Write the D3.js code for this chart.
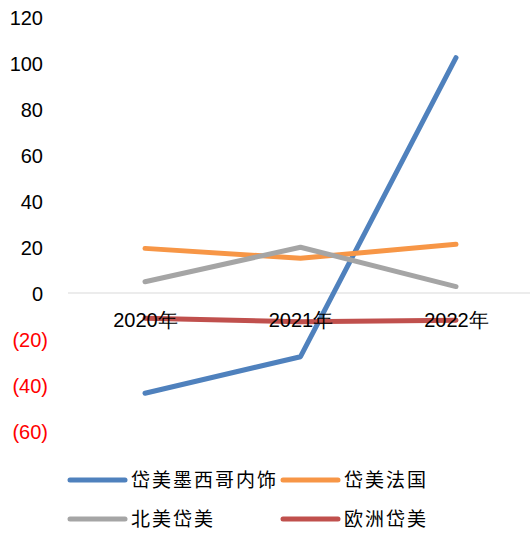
<!DOCTYPE html>
<html>
<head>
<meta charset="utf-8">
<script src="https://cdn.jsdelivr.net/npm/d3@7"></script>
<style>
  body { margin: 0; background: #fff; }
  text { font-family: "Liberation Sans", Arial, sans-serif; }
  .legend text { font-family: "Noto Sans CJK SC", sans-serif; }
</style>
</head>
<body>
<svg width="530" height="535"></svg>
<script>
var years = ["2020年", "2021年", "2022年"];
var mexico = [-43.6, -27.7, 102.3];
var france = [19.4, 15.1, 21.2];
var northAm = [4.9, 19.9, 2.8];
var europe = [-11, -12.5, -11.8];
var yTicks = [-60, -40, -20, 0, 20, 40, 60, 80, 100, 120];

var series = [
  {name: "岱美墨西哥内饰", values: mexico, color: "#4F81BD"},
  {name: "岱美法国", values: france, color: "#F79646"},
  {name: "北美岱美", values: northAm, color: "#A5A5A5"},
  {name: "欧洲岱美", values: europe, color: "#C0504D"}
];

var svg = d3.select("svg");

var x = d3.scalePoint().domain(years).range([145, 456]);
var y = d3.scaleLinear().domain([-60, 120]).range([431, 17]);

// zero line
svg.append("line")
   .attr("x1", 68).attr("x2", 530)
   .attr("y1", y(0)).attr("y2", y(0))
   .attr("stroke", "#d9d9d9").attr("stroke-width", 1);

// y axis labels
var yAxis = d3.axisLeft(y).tickValues(yTicks).tickSize(0)
  .tickFormat(function(d){ return d < 0 ? "(" + Math.abs(d) + ")" : d; });
var gy = svg.append("g").attr("transform", "translate(48,0)").call(yAxis);
gy.select(".domain").remove();
gy.selectAll("text")
  .attr("x", function(d){ return d < 0 ? 0 : -5; })
  .attr("dy", "0.35em")
  .attr("font-size", 20)
  .attr("font-family", "'Liberation Sans', Arial, sans-serif")
  .attr("fill", function(d){ return d < 0 ? "#FF0000" : "#000"; });

// lines
var line = d3.line()
  .x(function(d, i){ return x(years[i]); })
  .y(function(d){ return y(d); });

svg.selectAll(".series")
   .data(series)
   .enter()
   .append("path")
   .attr("class", "series")
   .attr("d", function(s){ return line(s.values); })
   .attr("fill", "none")
   .attr("stroke", function(s){ return s.color; })
   .attr("stroke-width", 5)
   .attr("stroke-linecap", "round")
   .attr("stroke-linejoin", "round");

// category labels (drawn over lines like the original)
var xAxis = d3.axisBottom(x).tickSize(0);
var gx = svg.append("g").attr("transform", "translate(0," + 320 + ")").call(xAxis);
gx.select(".domain").remove();
gx.selectAll("text")
  .attr("y", 0)
  .attr("dy", "0.35em")
  .attr("font-size", 20)
  .attr("font-family", "'Liberation Sans', 'Noto Sans CJK SC', sans-serif")
  .attr("fill", "#000");

// legend
var legendPos = [[70, 480], [283, 480], [70, 519], [283, 519]];
var legend = svg.append("g").attr("class", "legend")
  .selectAll("g")
  .data(series)
  .enter()
  .append("g")
  .attr("transform", function(d, i){ return "translate(" + legendPos[i] + ")"; });

legend.append("line")
  .attr("x1", 0).attr("x2", 55)
  .attr("stroke", function(d){ return d.color; })
  .attr("stroke-width", 5)
  .attr("stroke-linecap", "round");

legend.append("text")
  .attr("x", 61)
  .attr("dy", "0.35em")
  .attr("font-size", 19)
  .attr("letter-spacing", 2)
  .attr("fill", "#000")
  .text(function(d){ return d.name; });
</script>
</body>
</html>
